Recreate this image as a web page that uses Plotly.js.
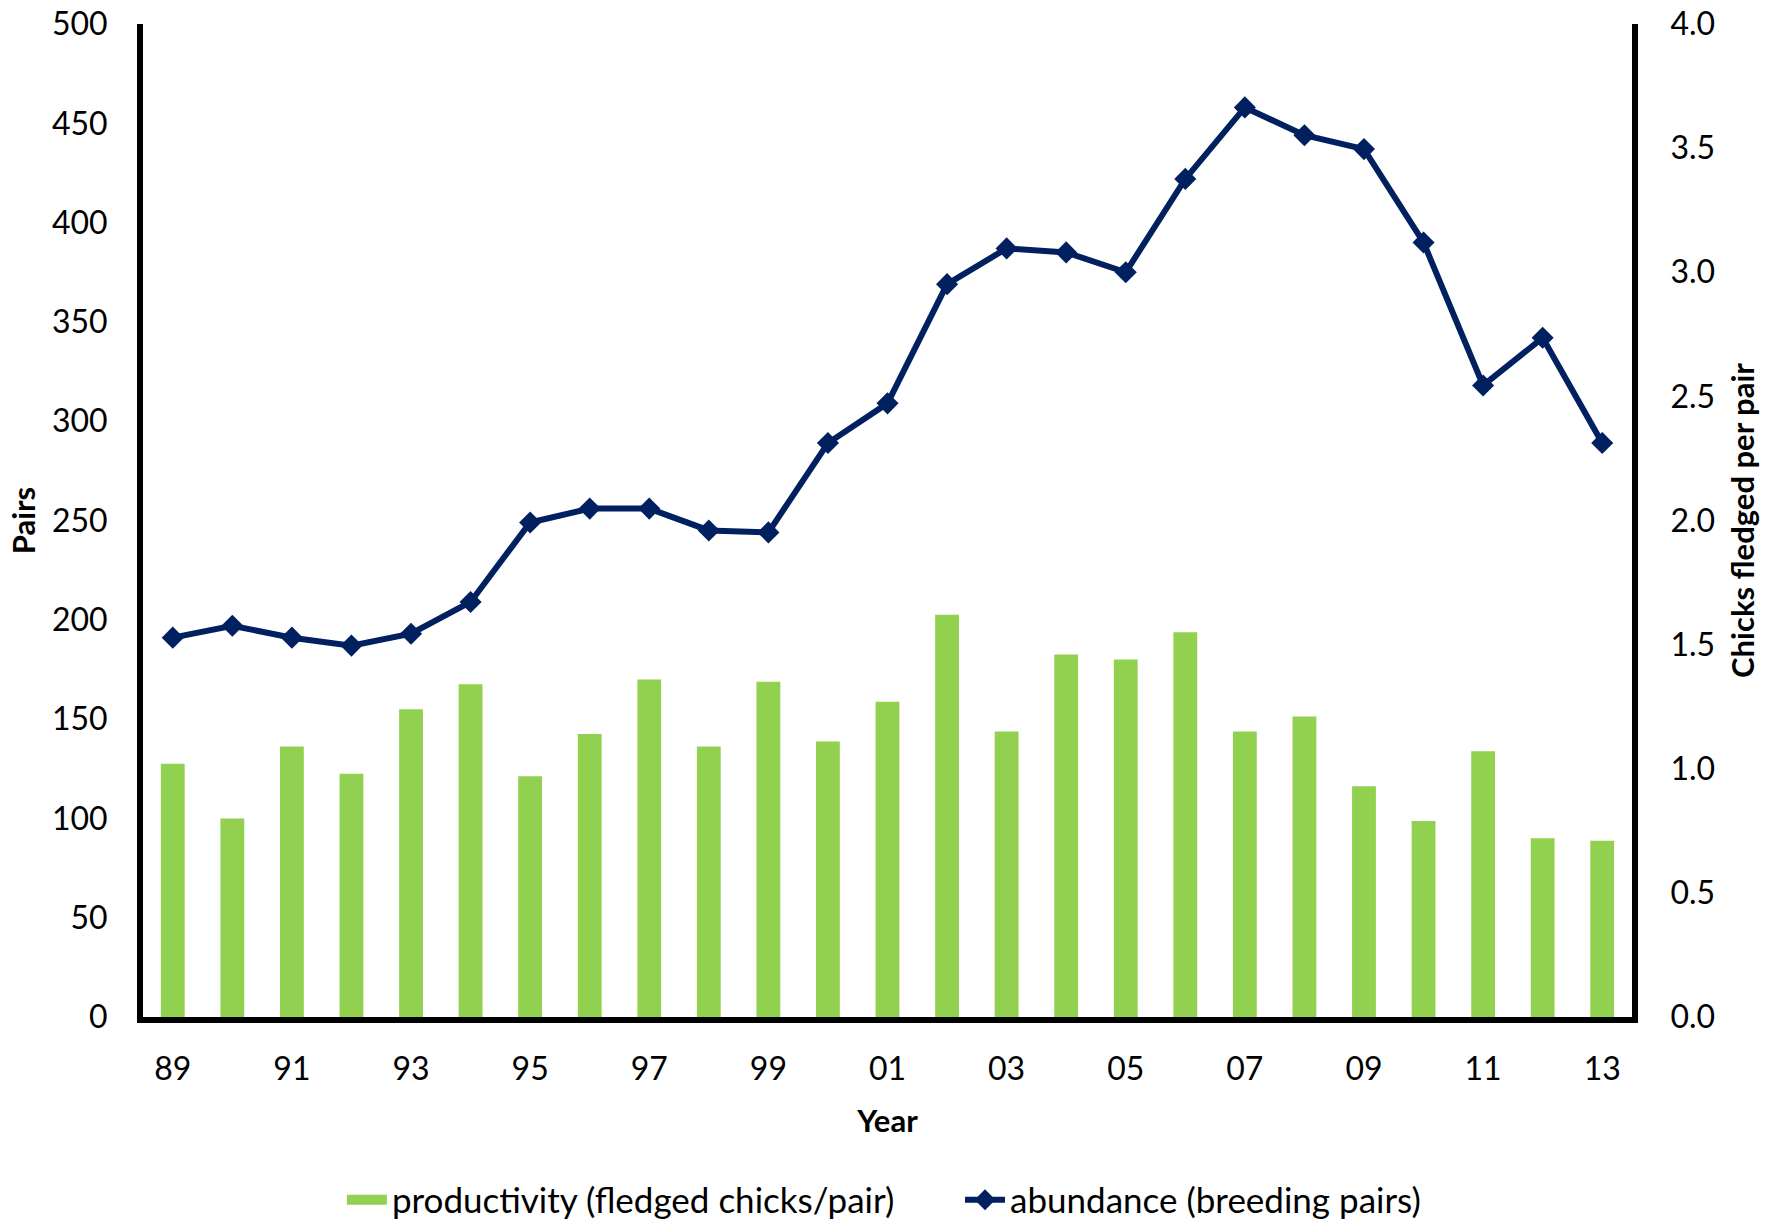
<!DOCTYPE html>
<html>
<head>
<meta charset="utf-8">
<script src="https://cdn.plot.ly/plotly-3.0.1.min.js"></script>
<style>html,body{margin:0;padding:0;background:#fff;}#chart{width:1783px;height:1225px;}</style>
</head>
<body>
<div id="chart"></div>
<script>
// Data
const years = ["89","90","91","92","93","94","95","96","97","98","99","00","01","02","03","04","05","06","07","08","09","10","11","12","13"];
const productivity = [1.02,0.80,1.09,0.98,1.24,1.34,0.97,1.14,1.36,1.09,1.35,1.11,1.27,1.62,1.15,1.46,1.44,1.55,1.15,1.21,0.93,0.79,1.07,0.72,0.71];
const abundance = [191,197,191,187,193,209,249,256,256,245,244,289,309,369,387,385,375,422,458,444,437,390,318,342,289];
const xTickLabels = ["89","91","93","95","97","99","01","03","05","07","09","11","13"];
const pairsTicks = [0,50,100,150,200,250,300,350,400,450,500];
const chicksTicks = [0,0.5,1,1.5,2,2.5,3,3.5,4];
const seriesNames = ["productivity (fledged chicks/pair)", "abundance (breeding pairs)"];

const FONT = "Lato, 'Open Sans', sans-serif";
const GREEN = "#92D050";
const NAVY = "#002060";

const traces = [
  {
    type: "bar",
    name: seriesNames[0],
    x: years,
    y: productivity,
    yaxis: "y",
    width: 0.4,
    showlegend: false,
    legendgroup: "prod",
    marker: {color: GREEN, line: {width: 0}}
  },
  {
    // legend swatch for the bars (wide green rectangle like the original)
    type: "scatter",
    mode: "lines",
    name: seriesNames[0],
    x: [null],
    y: [null],
    yaxis: "y",
    legend: "legend",
    legendgroup: "prod",
    hoverinfo: "skip",
    line: {color: GREEN, width: 20}
  },
  {
    type: "scatter",
    mode: "lines+markers",
    name: seriesNames[1],
    x: years,
    y: abundance,
    yaxis: "y2",
    legend: "legend2",
    line: {color: NAVY, width: 6},
    marker: {symbol: "diamond", size: 17, color: NAVY}
  }
];

const tickFont = {family: FONT, size: 32, color: "#000"};
const titleFont = {family: FONT, size: 31, color: "#000"};
const legendFont = {family: FONT, size: 35, color: "#000"};

const layout = {
  width: 1783,
  height: 1225,
  margin: {l: 143, r: 151, t: 24, b: 208, autoexpand: false},
  paper_bgcolor: "#ffffff",
  plot_bgcolor: "#ffffff",
  font: {family: FONT, size: 30, color: "#000000"},
  showlegend: true,
  xaxis: {
    type: "category",
    range: [-0.5, 24.5],
    tickmode: "array",
    tickvals: xTickLabels,
    ticktext: xTickLabels,
    ticks: "",
    ticklabelstandoff: 19,
    showline: true,
    linecolor: "#000000",
    linewidth: 6,
    showgrid: false,
    zeroline: false,
    tickfont: tickFont,
    title: {text: "<b>Year</b>", font: titleFont, standoff: 26}
  },
  yaxis: {
    side: "right",
    range: [0, 4],
    tickmode: "array",
    tickvals: chicksTicks,
    tickformat: ".1f",
    ticks: "",
    ticklabelstandoff: 26,
    showline: true,
    linecolor: "#000000",
    linewidth: 6,
    showgrid: false,
    zeroline: false,
    tickfont: tickFont,
    title: {text: "<b>Chicks fledged per pair</b>", font: titleFont, standoff: 20}
  },
  yaxis2: {
    overlaying: "y",
    side: "left",
    range: [0, 500],
    tickmode: "array",
    tickvals: pairsTicks,
    ticks: "",
    ticklabelstandoff: 23,
    showline: true,
    linecolor: "#000000",
    linewidth: 6,
    showgrid: false,
    zeroline: false,
    tickfont: tickFont,
    title: {text: "<b>Pairs</b>", font: titleFont, standoff: 9}
  },
  legend: {
    orientation: "h",
    x: 0.1336,
    xanchor: "left",
    y: -0.1843,
    yanchor: "middle",
    font: legendFont,
    bgcolor: "rgba(0,0,0,0)",
    itemwidth: 40
  },
  legend2: {
    orientation: "h",
    x: 0.5487,
    xanchor: "left",
    y: -0.1843,
    yanchor: "middle",
    font: legendFont,
    bgcolor: "rgba(0,0,0,0)",
    itemwidth: 40
  }
};

Plotly.newPlot("chart", traces, layout, {displayModeBar: false, staticPlot: true});
</script>
</body>
</html>
